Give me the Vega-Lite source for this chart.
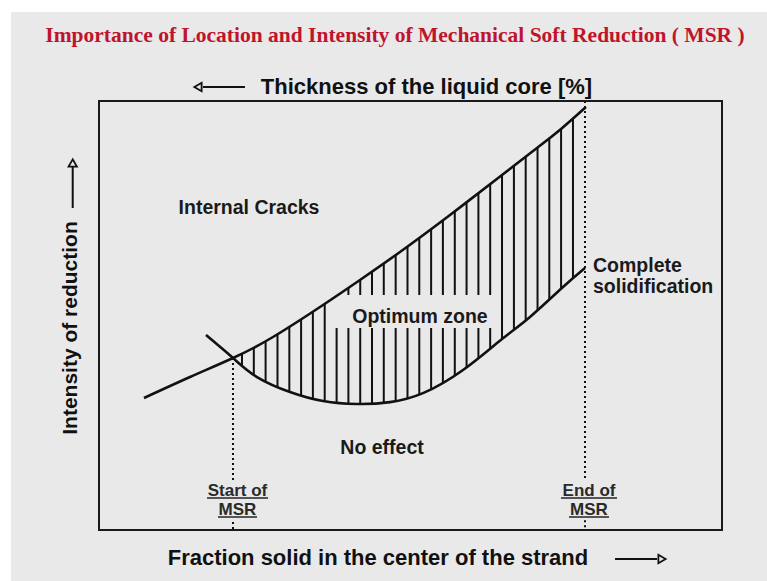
{
  "$schema": "https://vega.github.io/schema/vega-lite/v6.json",
  "width": 623,
  "height": 429,
  "autosize": {"type": "none"},
  "padding": {"left": 99, "top": 101, "right": 45, "bottom": 51},
  "background": "white",
  "config": {"view": {"stroke": null}},
  "datasets": {
    "slide": [{"x": -14.13, "x2": 110, "y": 120.75, "y2": -15}],
    "upper": [
      {"x": 7.22, "y": 30.77}, {"x": 14.61, "y": 35.66}, {"x": 21.51, "y": 40.09},
      {"x": 27.93, "y": 44.99}, {"x": 35.96, "y": 52.45}, {"x": 41.89, "y": 58.28},
      {"x": 48.31, "y": 64.8}, {"x": 56.34, "y": 73.43}, {"x": 64.69, "y": 82.75},
      {"x": 70.3, "y": 89.04}, {"x": 74.16, "y": 93.47}, {"x": 78.17, "y": 98.6}
    ],
    "lower": [
      {"x": 17.17, "y": 45.45}, {"x": 21.51, "y": 40.09}, {"x": 25.36, "y": 35.66},
      {"x": 30.66, "y": 32.17}, {"x": 35.96, "y": 30.07}, {"x": 41.41, "y": 29.37},
      {"x": 46.71, "y": 29.8}, {"x": 52.0, "y": 31.9}, {"x": 58.43, "y": 37.3},
      {"x": 64.69, "y": 44.52}, {"x": 69.18, "y": 49.65}, {"x": 74.48, "y": 56.64},
      {"x": 78.01, "y": 61.07}
    ],
    "hatch": [
      {"x": 22.95}, {"x": 24.85}, {"x": 26.74}, {"x": 28.65}, {"x": 30.55}, {"x": 32.44},
      {"x": 34.33}, {"x": 36.23}, {"x": 38.14}, {"x": 40.03}, {"x": 41.93}, {"x": 43.82},
      {"x": 45.71}, {"x": 47.62}, {"x": 49.52}, {"x": 51.41}, {"x": 53.31}, {"x": 55.2},
      {"x": 57.11}, {"x": 59.0}, {"x": 60.9}, {"x": 62.79}, {"x": 64.69}, {"x": 66.6},
      {"x": 68.49}, {"x": 70.39}, {"x": 72.28}, {"x": 74.17}, {"x": 76.08}
    ],
    "optbox": [{"x": 37.56, "x2": 63.8, "y": 54.78, "y2": 47.09}],
    "dotted": [
      {"x": 21.51, "y": 40.09, "y2": 11.66},
      {"x": 21.51, "y": 1.86, "y2": 0},
      {"x": 78.01, "y": 100, "y2": 12.1},
      {"x": 78.01, "y": 2.3, "y2": 0}
    ],
    "frame": [{"x": 0, "x2": 100, "y": 0, "y2": 100}],
    "regions": [
      {"text": "Internal Cracks", "x": 24.08, "y": 75.06},
      {"text": "Optimum zone", "x": 51.52, "y": 49.65},
      {"text": "No effect", "x": 45.43, "y": 19.11}
    ],
    "complete": [
      {"text": "Complete", "x": 79.29, "y": 61.54},
      {"text": "solidification", "x": 79.29, "y": 56.64}
    ],
    "msr": [
      {"text": "Start of", "x": 22.23, "y": 9.09},
      {"text": "MSR", "x": 22.23, "y": 4.66},
      {"text": "End of", "x": 78.65, "y": 9.09},
      {"text": "MSR", "x": 78.65, "y": 4.66}
    ],
    "underlines": [
      {"x": 17.34, "x2": 27.13, "y": 7.46},
      {"x": 19.1, "x2": 25.36, "y": 3.03},
      {"x": 74.16, "x2": 83.15, "y": 7.46},
      {"x": 75.44, "x2": 81.86, "y": 3.03}
    ],
    "hlabels": [
      {"text": "Thickness of the liquid core [%]", "x": 52.57, "y": 103.26},
      {"text": "Fraction solid in the center of the strand", "x": 44.78, "y": -6.53}
    ],
    "vlabel": [{"text": "Intensity of reduction", "x": -4.49, "y": 47.09}],
    "title": [{"text": "Importance of Location and Intensity of  Mechanical Soft Reduction ( MSR )", "x": 47.51, "y": 115.15}],
    "shafts": [
      {"x": 16.69, "x2": 23.43, "y": 103.26, "y2": 103.26},
      {"x": -4.22, "x2": -4.22, "y": 75.06, "y2": 84.62},
      {"x": 82.83, "x2": 89.57, "y": -6.76, "y2": -6.76}
    ],
    "heads": [
      {"dir": "left", "x": 15.89, "y": 103.26},
      {"dir": "up", "x": -4.22, "y": 85.55},
      {"dir": "right", "x": 90.37, "y": -6.76}
    ]
  },
  "layer": [
    {
      "data": {"name": "slide"},
      "mark": {"type": "rect", "fill": "#e9e9e9", "stroke": null},
      "encoding": {
        "x": {"field": "x", "type": "quantitative", "scale": {"domain": [0, 100], "nice": false, "zero": false}, "axis": null},
        "x2": {"field": "x2"},
        "y": {"field": "y", "type": "quantitative", "scale": {"domain": [0, 100], "nice": false, "zero": false}, "axis": null},
        "y2": {"field": "y2"}
      }
    },
    {
      "data": {"name": "hatch"},
      "mark": {"type": "rule", "stroke": "#111111", "strokeWidth": 2},
      "encoding": {
        "x": {"field": "x", "type": "quantitative"},
        "y": {"datum": 28},
        "y2": {"datum": 99}
      }
    },
    {
      "data": {"name": "upper"},
      "mark": {"type": "area", "interpolate": "natural", "fill": "#e9e9e9", "opacity": 1},
      "encoding": {
        "x": {"field": "x", "type": "quantitative"},
        "y": {"field": "y", "type": "quantitative"},
        "y2": {"datum": 100}
      }
    },
    {
      "data": {"name": "lower"},
      "mark": {"type": "area", "interpolate": "natural", "fill": "#e9e9e9", "opacity": 1},
      "encoding": {
        "x": {"field": "x", "type": "quantitative"},
        "y": {"field": "y", "type": "quantitative"},
        "y2": {"datum": 26}
      }
    },
    {
      "data": {"name": "optbox"},
      "mark": {"type": "rect", "fill": "#e9e9e9"},
      "encoding": {
        "x": {"field": "x", "type": "quantitative"},
        "x2": {"field": "x2"},
        "y": {"field": "y", "type": "quantitative"},
        "y2": {"field": "y2"}
      }
    },
    {
      "data": {"name": "upper"},
      "mark": {"type": "line", "interpolate": "natural", "stroke": "#111111", "strokeWidth": 2.6},
      "encoding": {
        "x": {"field": "x", "type": "quantitative"},
        "y": {"field": "y", "type": "quantitative"}
      }
    },
    {
      "data": {"name": "lower"},
      "mark": {"type": "line", "interpolate": "natural", "stroke": "#111111", "strokeWidth": 2.6},
      "encoding": {
        "x": {"field": "x", "type": "quantitative"},
        "y": {"field": "y", "type": "quantitative"}
      }
    },
    {
      "data": {"name": "dotted"},
      "mark": {"type": "rule", "stroke": "#111111", "strokeWidth": 2, "strokeDash": [2, 3]},
      "encoding": {
        "x": {"field": "x", "type": "quantitative"},
        "y": {"field": "y", "type": "quantitative"},
        "y2": {"field": "y2"}
      }
    },
    {
      "data": {"name": "frame"},
      "mark": {"type": "rect", "fill": null, "stroke": "#1a1a1a", "strokeWidth": 2},
      "encoding": {
        "x": {"field": "x", "type": "quantitative"},
        "x2": {"field": "x2"},
        "y": {"field": "y", "type": "quantitative"},
        "y2": {"field": "y2"}
      }
    },
    {
      "data": {"name": "regions"},
      "mark": {"type": "text", "font": "Liberation Sans", "fontWeight": "bold", "fontSize": 19.5, "fill": "#1a1a1a", "align": "center", "baseline": "middle"},
      "encoding": {
        "x": {"field": "x", "type": "quantitative"},
        "y": {"field": "y", "type": "quantitative"},
        "text": {"field": "text"}
      }
    },
    {
      "data": {"name": "complete"},
      "mark": {"type": "text", "font": "Liberation Sans", "fontWeight": "bold", "fontSize": 19.5, "fill": "#1a1a1a", "align": "left", "baseline": "middle"},
      "encoding": {
        "x": {"field": "x", "type": "quantitative"},
        "y": {"field": "y", "type": "quantitative"},
        "text": {"field": "text"}
      }
    },
    {
      "data": {"name": "msr"},
      "mark": {"type": "text", "font": "Liberation Sans", "fontWeight": "bold", "fontSize": 17, "fill": "#2a2a2a", "align": "center", "baseline": "middle"},
      "encoding": {
        "x": {"field": "x", "type": "quantitative"},
        "y": {"field": "y", "type": "quantitative"},
        "text": {"field": "text"}
      }
    },
    {
      "data": {"name": "underlines"},
      "mark": {"type": "rule", "stroke": "#555555", "strokeWidth": 2},
      "encoding": {
        "x": {"field": "x", "type": "quantitative"},
        "x2": {"field": "x2"},
        "y": {"field": "y", "type": "quantitative"}
      }
    },
    {
      "data": {"name": "hlabels"},
      "mark": {"type": "text", "font": "Liberation Sans", "fontWeight": "bold", "fontSize": 22, "fill": "#111111", "align": "center", "baseline": "middle"},
      "encoding": {
        "x": {"field": "x", "type": "quantitative"},
        "y": {"field": "y", "type": "quantitative"},
        "text": {"field": "text"}
      }
    },
    {
      "data": {"name": "vlabel"},
      "mark": {"type": "text", "font": "Liberation Sans", "fontWeight": "bold", "fontSize": 21, "fill": "#111111", "align": "center", "baseline": "middle", "angle": 270},
      "encoding": {
        "x": {"field": "x", "type": "quantitative"},
        "y": {"field": "y", "type": "quantitative"},
        "text": {"field": "text"}
      }
    },
    {
      "data": {"name": "title"},
      "mark": {"type": "text", "font": "Liberation Serif", "fontWeight": "bold", "fontSize": 21.5, "fill": "#c0142c", "align": "center", "baseline": "middle"},
      "encoding": {
        "x": {"field": "x", "type": "quantitative"},
        "y": {"field": "y", "type": "quantitative"},
        "text": {"field": "text"}
      }
    },
    {
      "data": {"name": "shafts"},
      "mark": {"type": "rule", "stroke": "#111111", "strokeWidth": 2},
      "encoding": {
        "x": {"field": "x", "type": "quantitative"},
        "x2": {"field": "x2"},
        "y": {"field": "y", "type": "quantitative"},
        "y2": {"field": "y2"}
      }
    },
    {
      "data": {"name": "heads"},
      "mark": {"type": "point", "filled": false, "stroke": "#111111", "strokeWidth": 1.8, "size": 70, "opacity": 1},
      "encoding": {
        "x": {"field": "x", "type": "quantitative"},
        "y": {"field": "y", "type": "quantitative"},
        "shape": {"field": "dir", "type": "nominal", "scale": {"domain": ["left", "up", "right"], "range": ["triangle-left", "triangle-up", "triangle-right"]}, "legend": null}
      }
    }
  ]
}
